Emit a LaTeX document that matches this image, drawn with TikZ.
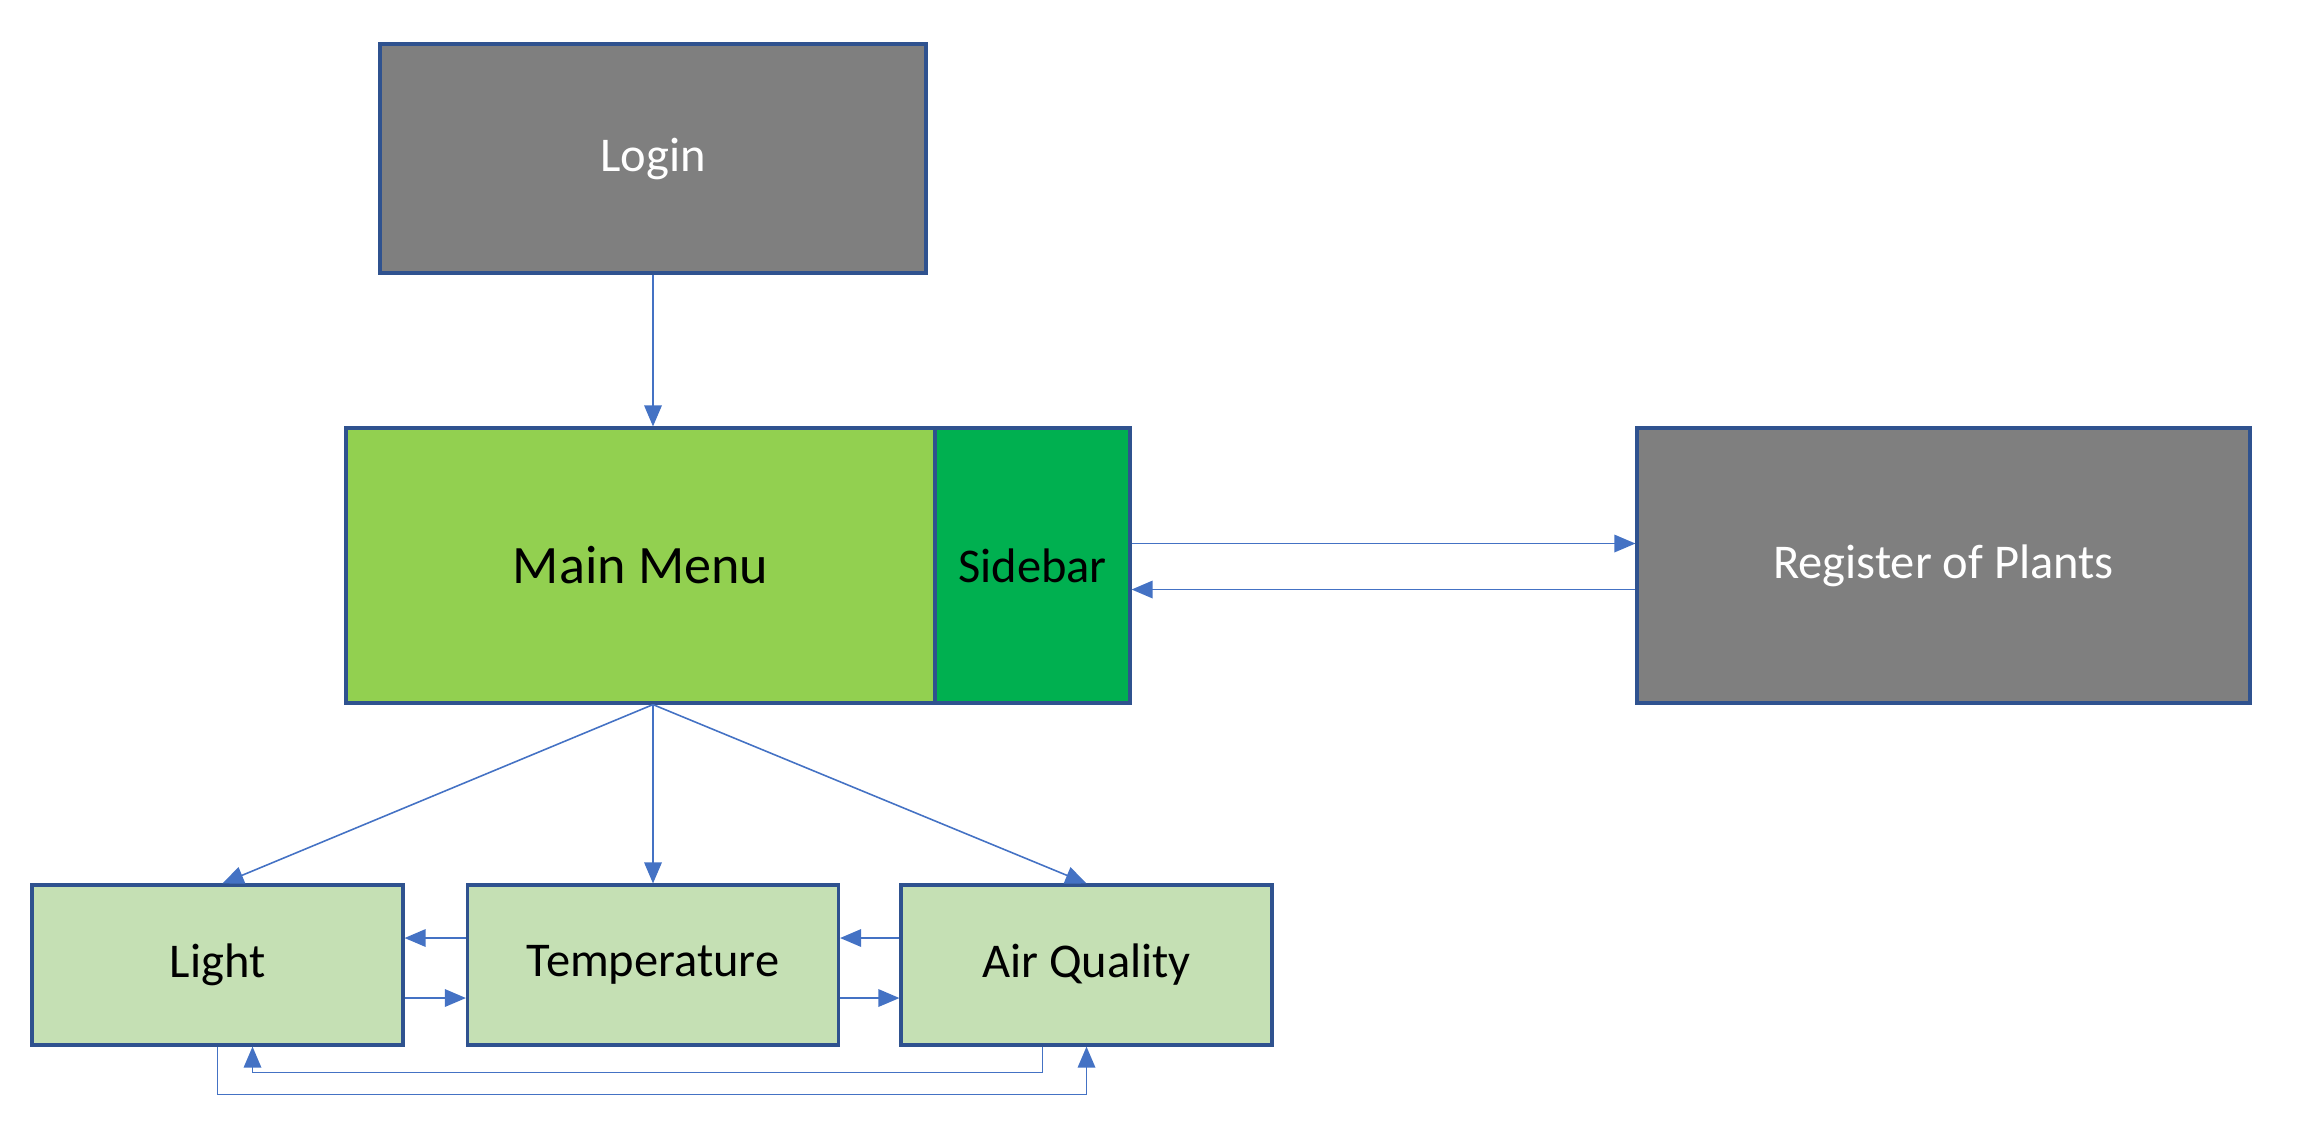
\documentclass[tikz,border=0pt]{standalone}
\usepackage{fontspec}
\setmainfont{Carlito}
\usetikzlibrary{arrows.meta}
\definecolor{boxline}{HTML}{2F528F}
\definecolor{linkblue}{HTML}{4472C4}
\definecolor{screengray}{HTML}{7F7F7F}
\definecolor{menugreen}{HTML}{92D050}
\definecolor{sidegreen}{HTML}{00B050}
\definecolor{palegreen}{HTML}{C5E0B4}
\tikzset{
every picture/.style={>={Triangle[width=5pt,length=6pt]}},
%%%%%%%%%%  Node styles
screen/.style={draw=boxline, line width=0.9pt, inner sep=0pt,
               font=\fontsize{13.8}{16}\selectfont},
darkscreen/.style={screen, fill=screengray, text=white},
subscreen/.style={screen, fill=palegreen, text=black,
                  minimum width=3.71cm, minimum height=1.6cm},
%%%% connector style
link/.style={draw=linkblue, line width=0.45pt, ->}
}

\begin{document}
\begin{tikzpicture}
\useasboundingbox (0,0) rectangle (22.98,-11.36);
\node[darkscreen, minimum width=5.46cm, minimum height=2.29cm] (login)
  at (6.53,-1.585) {Login};
\node[screen, fill=menugreen, minimum width=5.89cm, minimum height=2.75cm,
  font=\fontsize{15.4}{18}\selectfont] (menu) at (6.405,-5.655) {Main Menu};
\node[screen, fill=sidegreen, minimum width=1.95cm, minimum height=2.75cm]
  (sidebar) at (10.325,-5.655) {Sidebar};
\node[darkscreen, minimum width=6.13cm, minimum height=2.75cm] (register)
  at (19.435,-5.655) {Register of Plants};
\node[subscreen] (light) at (2.175,-9.65) {Light};
\node[subscreen] (temp) at (6.53,-9.65) {Temperature};
\node[subscreen] (air) at (10.865,-9.65) {Air Quality};
\coordinate (hub) at (login.south |- menu.south);
\draw[link] (login.south) -- (login.south |- menu.north);
\draw[link] (hub) -- ([xshift=0.5mm]light.north);
\draw[link] (hub) -- (temp.north);
\draw[link] (hub) -- (air.north);
\draw[link] ([yshift=2.2mm]sidebar.east) -- ([yshift=2.2mm]register.west);
\draw[link] ([yshift=-2.4mm]register.west) -- ([yshift=-2.4mm]sidebar.east);
\draw[link] ([yshift=2.7mm]temp.west) -- ([yshift=2.7mm]light.east);
\draw[link] ([yshift=-3.3mm]light.east) -- ([yshift=-3.3mm]temp.west);
\draw[link] ([yshift=2.7mm]air.west) -- ([yshift=2.7mm]temp.east);
\draw[link] ([yshift=-3.3mm]temp.east) -- ([yshift=-3.3mm]air.west);
\draw[link] ([xshift=-4.4mm]air.south) -- ++(0,-0.26)
  -| ([xshift=3.5mm]light.south);
\draw[link] (light.south) -- ++(0,-0.48) -| (air.south);
\end{tikzpicture}
\end{document}
